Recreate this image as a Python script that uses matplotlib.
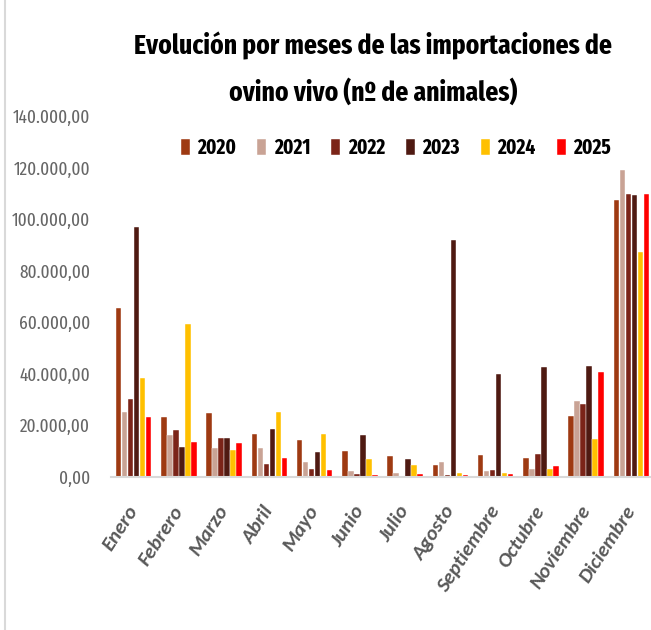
import numpy as np
import matplotlib.pyplot as plt
from matplotlib.lines import Line2D
from matplotlib.ticker import FuncFormatter

meses = ['Enero', 'Febrero', 'Marzo', 'Abril', 'Mayo', 'Junio', 'Julio',
         'Agosto', 'Septiembre', 'Octubre', 'Noviembre', 'Diciembre']
years = ['2020', '2021', '2022', '2023', '2024', '2025']

v2020 = [65400, 23400, 24700, 16500, 14200, 10100, 8100, 4500, 8500, 7400, 23800, 107400]
v2021 = [25300, 16400, 11400, 11200, 5900, 2200, 1600, 5900, 2300, 3200, 29300, 119000]
v2022 = [30100, 18200, 15000, 5200, 3000, 1200, 300, 900, 2700, 8900, 28400, 109700]
v2023 = [97000, 11700, 15000, 18600, 9700, 16400, 6800, 92100, 40100, 42600, 43100, 109300]
v2024 = [38300, 59400, 10500, 25200, 16500, 7000, 4800, 1700, 1700, 3100, 14600, 87200]
v2025 = [23100, 13600, 13100, 7200, 2600, 800, 1200, 800, 1100, 4300, 40700, 109600]

colors = ['#9E3A12', '#C9A395', '#7B2418', '#4F1A12', '#FFC000', '#FF0000']

narrow = ['Fira Sans Extra Condensed', 'DejaVu Sans']
plt.rcParams['font.family'] = ['Carlito', 'DejaVu Sans']

fig = plt.figure(figsize=(6.51, 6.30), dpi=100)
ax = fig.add_axes([111 / 651, 1 - 477 / 630, 543 / 651, 361 / 630])

series = [v2020, v2021, v2022, v2023, v2024, v2025]
x = np.arange(len(meses))
w = 0.8 / 6
for i, (vals, c, y) in enumerate(zip(series, colors, years)):
    ax.bar(x - 0.4 + w * (i + 0.5), vals, w * 0.92, color=c, label=y,
           edgecolor='white', linewidth=0.3)

ax.set_xlim(-0.5, 11.5)
ax.set_ylim(0, 140000)
ax.set_yticks(np.arange(0, 140001, 20000))
ax.yaxis.set_major_formatter(FuncFormatter(
    lambda v, p: f'{v:,.2f}'.replace(',', 'X').replace('.', ',').replace('X', '.')))
ax.tick_params(axis='y', length=0, pad=15)
for t in ax.get_yticklabels():
    t.set_family(narrow)
    t.set_fontsize(13.5)
    t.set_color('#666666')
ax.tick_params(axis='x', length=0, pad=22)
ax.set_xticks(x)
ax.set_xticklabels(meses, rotation=57, ha='right', va='center', rotation_mode='anchor',
                   fontsize=15, fontweight='bold', fontstyle='italic', color='#595959')
for s in ['top', 'right', 'left']:
    ax.spines[s].set_visible(False)
ax.spines['bottom'].set_color('#D9D9D9')
ax.spines['bottom'].set_linewidth(1.5)

fig.text(0.573, 1 - 46 / 630, 'Evolución por meses de las importaciones de',
         ha='center', va='center', fontsize=20, fontweight='bold', family=narrow)
fig.text(0.573, 1 - 92 / 630, 'ovino vivo (nº de animales)',
         ha='center', va='center', fontsize=20, fontweight='bold', family=narrow)

leg = fig.legend(loc='center', bbox_to_anchor=(0.608, 1 - 148 / 630), ncol=6,
                 frameon=False, prop={'family': narrow, 'size': 15, 'weight': 'bold'},
                 handlelength=0.45, handleheight=0.85, handletextpad=0.35,
                 columnspacing=1.0)

fig.add_artist(Line2D([5 / 651, 5 / 651], [0, 1], color='#D9D9D9', lw=1.5))

fig.savefig('out.png', dpi=100)
